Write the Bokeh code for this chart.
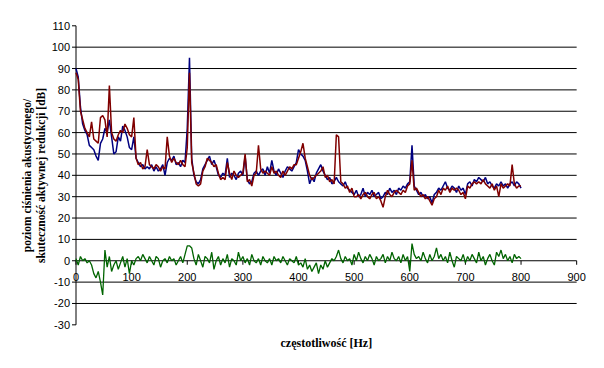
import math
from bokeh.plotting import figure
from bokeh.models import Range1d
from bokeh.core.properties import value
from bokeh.embed import file_html
from bokeh.resources import INLINE

# ---- data ----
freq = list(range(0, 801, 4))

blue = [90, 86, 72, 64, 61, 59, 54, 53, 52, 49,
        47, 55, 57, 62, 60, 66, 58, 50, 51, 58,
        56, 63, 61, 58, 53, 52, 58, 48, 46, 44,
        45, 43, 44, 43, 45, 42, 44, 42, 43, 45,
        40, 46, 48, 47, 49, 45, 46, 44, 47, 46,
        62, 95, 48, 40, 37, 36, 38, 43, 45, 47,
        49, 45, 47, 44, 40, 39, 41, 40, 48, 39,
        41, 40, 38, 41, 42, 40, 49, 38, 36, 37,
        41, 42, 40, 42, 43, 40, 44, 41, 47, 42,
        40, 43, 41, 39, 42, 44, 43, 42, 44, 46,
        52, 50, 49, 47, 42, 36, 39, 37, 41, 43,
        45, 42, 40, 38, 39, 36, 37, 39, 37, 36,
        35, 37, 34, 33, 32, 31, 33, 30, 31, 34,
        30, 32, 31, 33, 30, 31, 32, 29, 30, 32,
        31, 34, 32, 33, 31, 34, 33, 35, 34, 36,
        37, 54, 35, 33, 31, 32, 30, 31, 29, 30,
        27, 31, 32, 34, 33, 35, 37, 34, 33, 35,
        34, 32, 35, 33, 34, 31, 36, 37, 35, 38,
        37, 39, 38, 37, 39, 36, 37, 35, 34, 36,
        35, 37, 35, 36, 34, 36, 37, 35, 37, 36,
        34]

red = [88, 85, 70, 66, 62, 60, 58, 65, 57, 56,
       55, 67, 68, 66, 58, 82, 60, 57, 56, 59,
       61, 60, 64, 62, 59, 58, 67, 48, 45, 46,
       43, 44, 52, 45, 44, 43, 45, 44, 42, 44,
       43, 58, 49, 46, 48, 46, 45, 47, 45, 44,
       53, 88, 46, 41, 36, 35, 36, 42, 44, 48,
       47, 46, 44, 45, 41, 38, 39, 38, 46, 41,
       38, 42, 40, 39, 40, 41, 50, 37, 38, 35,
       40, 41, 54, 43, 41, 42, 41, 40, 44, 41,
       42, 40, 39, 42, 40, 42, 44, 43, 45, 45,
       48, 51, 55, 48, 44, 40, 38, 39, 40, 41,
       42, 44, 39, 40, 37, 38, 36, 59, 58, 37,
       36, 34, 35, 32, 34, 30, 30, 31, 29, 31,
       32, 30, 29, 31, 32, 29, 30, 28, 25, 30,
       33, 31, 30, 32, 33, 32, 31, 33, 32, 35,
       36, 47, 33, 34, 32, 30, 31, 29, 30, 28,
       26, 29, 30, 33, 31, 34, 33, 35, 32, 34,
       33, 34, 33, 31, 32, 29, 35, 34, 36, 37,
       36, 37, 36, 38, 36, 35, 34, 36, 33, 35,
       30, 36, 34, 35, 36, 35, 45, 36, 34, 35,
       35]

green = [1, -2, 2, 0, 1, -1, 0, -2, -6, -8,
         -5, -10, -16, 5, -3, 2, -5, -2, 0, -4,
         -1, 2, -3, 1, -6, 0, -2, 1, 2, 0,
         3, 1, -1, 2, 0, -2, 2, 1, -3, 0,
         1, -1, 2, 0, 1, -2, 0, 2, -1, 3,
         7, 7, 6, 1, -2, 3, 0, -3, 2, 1,
         -1, 4, -4, 0, 2, -2, 1, -1, 3, -3,
         1, 0, -2, 4, 0, 2, -1, 1, -2, 3,
         0, -1, 1, -2, 2, 0, -1, 1, -2, 2,
         0, 1, -1, 2, 0, -2, 1, 0, -1, 2,
         -2, -1, -3, 1, -4, -2, -5, -3, -1, -6,
         -2, -4, 0, -3, -1, 1, 0, 2, 5, 1,
         -1, 2, 0, 1, -2, 3, 0, 4, 1, -1,
         2, 0, 3, 1, -2, 2, 0, 1, 3, -1,
         2, 0, 4, 1, 0, 2, -1, 3, 0, 2,
         -5, 8, 3, 1, 2, 0, 4, 1, -1, 3,
         0, 2, 6, 1, 3, 0, 2, -1, 4, 0,
         -3, 2, 1, 0, 3, -1, 2, 0, 3, 1,
         -1, 4, 0, 2, -2, 1, 3, 0, -2, 4,
         2, 5, 1, 3, 0, 2, -1, 3, 1, 2,
         1]

x_ticks = [0, 100, 200, 300, 400, 500, 600, 700, 800, 900]
x_tick_labels = ["0", "100", "200", "300", "400", "500", "600", "700", "800", "900"]
y_ticks = [-30, -20, -10, 0, 10, 20, 30, 40, 50, 60, 70, 80, 90, 100, 110]
y_tick_labels = ["-30", "-20", "-10", "0", "10", "20", "30", "40", "50", "60",
                 "70", "80", "90", "100", "110"]
grid_y = [-20, -10, 0, 10, 20, 30, 40, 50, 60, 70, 80, 90, 100]
x_title = "częstotliwość [Hz]"
y_title_lines = ["poziom ciśnienia akustycznego/", "skuteczność aktywnej redukcji [dB]"]

# ---- canvas geometry: whole canvas is the plotting frame ----
W, H = 600, 360
PX_PER_HZ = 0.5563      # pixels per Hz
PX_PER_DB = 2.136       # pixels per dB
X0_PX, Y110_PX = 75.5, 25.3   # pixel position of f=0 and of 110 dB
x_lo = -X0_PX / PX_PER_HZ
x_hi = (W - X0_PX) / PX_PER_HZ
y_hi = 110 + Y110_PX / PX_PER_DB
y_lo = 110 - (H - Y110_PX) / PX_PER_DB

def hz(px):   # horizontal pixel offset -> Hz units
    return px / PX_PER_HZ

def db(px):   # vertical pixel offset -> dB units
    return px / PX_PER_DB

p = figure(width=W, height=H, output_backend="svg", toolbar_location=None,
           x_range=Range1d(x_lo, x_hi), y_range=Range1d(y_lo, y_hi), min_border=0)
p.outline_line_color = None
p.xaxis.visible = False
p.yaxis.visible = False
p.xgrid.visible = False
p.ygrid.visible = False
p.background_fill_color = "white"

# horizontal grid lines (the 0 line doubles as x axis)
p.segment(x0=[x_ticks[0]] * len(grid_y), y0=grid_y, x1=[x_ticks[-1]] * len(grid_y), y1=grid_y,
          line_color="black", line_width=1)
# x ticks on the zero line
p.segment(x0=x_ticks, y0=[0] * len(x_ticks), x1=x_ticks, y1=[-db(4)] * len(x_ticks),
          line_color="black", line_width=1)
# y axis line and ticks
p.segment(x0=[0], y0=[y_ticks[0]], x1=[0], y1=[y_ticks[-1]], line_color="black", line_width=1)
p.segment(x0=[0] * len(y_ticks), y0=y_ticks, x1=[-hz(4)] * len(y_ticks), y1=y_ticks,
          line_color="black", line_width=1)

# series
p.line(freq, blue, line_color="#000080", line_width=1.5)
p.line(freq, red, line_color="#800000", line_width=1.5)
p.line(freq, green, line_color="#006400", line_width=1.3)

# tick labels
p.text(x=[-hz(6)] * len(y_ticks), y=y_ticks, text=y_tick_labels,
       text_align="right", text_baseline="middle", text_font=value("Liberation Sans"),
       text_font_size="11px", text_color="black")
p.text(x=x_ticks, y=[-db(16)] * len(x_ticks), text=x_tick_labels,
       text_align="center", text_baseline="middle", text_font=value("Liberation Sans"),
       text_font_size="11px", text_color="black")

# axis titles
p.text(x=[450], y=[110 - db(342 - Y110_PX)], text=[x_title],
       text_align="center", text_baseline="middle", text_font=value("Liberation Serif"),
       text_font_style="bold", text_font_size="12px", text_color="black")
y_mid = 110 - db(175 - Y110_PX)
p.text(x=[-hz(X0_PX - 26), -hz(X0_PX - 40)], y=[y_mid, y_mid], text=y_title_lines,
       angle=math.pi / 2, text_align="center", text_baseline="middle",
       text_font=value("Liberation Serif"), text_font_style="bold",
       text_font_size="11.5px", text_color="black")

open("out.html", "w").write(file_html(p, INLINE))
